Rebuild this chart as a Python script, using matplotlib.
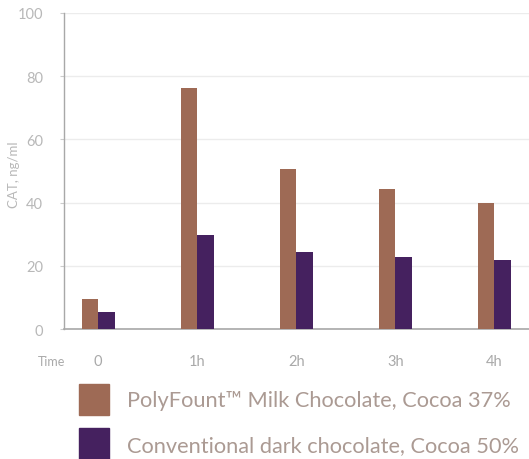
import matplotlib
matplotlib.use("Agg")
import matplotlib.pyplot as plt
from matplotlib.patches import Patch
import numpy as np

categories = ["0", "1h", "2h", "3h", "4h"]
polyfount = [9.5, 76.3, 50.6, 44.3, 39.8]
conventional = [5.5, 29.7, 24.4, 22.8, 21.8]
series_labels = ["PolyFount\u2122 Milk Chocolate, Cocoa 37%",
                 "Conventional dark chocolate, Cocoa 50%"]
yticks = [0, 20, 40, 60, 80, 100]

brown = "#9e6a55"
purple = "#45215f"
tick_color = "#a9a9a9"
legend_text = "#ab9a93"

plt.rcParams['font.family'] = ['Lato', 'DejaVu Sans']

fig = plt.figure(figsize=(5.29, 4.60), dpi=100)
ax = fig.add_axes([64/529, 130/460, 465/529, 316/460])

x = np.arange(len(categories))
w = 0.167
ax.bar(x - w/2, polyfount, width=w, color=brown, zorder=3)
ax.bar(x + w/2, conventional, width=w, color=purple, zorder=3)

ax.set_xlim(-0.345, 4.35)
ax.set_ylim(0, 100)
ax.set_yticks(yticks)
ax.set_xticks(x)
ax.set_xticklabels(categories)
ax.yaxis.grid(True, color="#ececec", linewidth=1.0, zorder=0)
ax.set_axisbelow(True)
for s in ["top", "right"]:
    ax.spines[s].set_visible(False)
ax.spines["left"].set_color("#a8a8a8")
ax.spines["bottom"].set_color("#a8a8a8")
ax.spines["left"].set_linewidth(1.0)
ax.spines["bottom"].set_linewidth(1.2)
ax.tick_params(axis="y", colors="#cccccc", length=3, pad=12, labelsize=10.5, labelcolor="#b8b8b8")
ax.tick_params(axis="x", length=0, pad=18, labelsize=10.5, labelcolor=tick_color)

ax.set_ylabel("CAT, ng/ml", color="#b8b8b8", fontsize=9.5)
ax.yaxis.set_label_coords(-0.095, 0.49)
fig.text(38/529, 1 - 362/460, "Time", color=tick_color, fontsize=9, va="center", ha="left")

handles = [Patch(facecolor=brown, edgecolor=brown), Patch(facecolor=purple, edgecolor=purple)]
leg = fig.legend(handles, series_labels, loc="upper left",
                 bbox_to_anchor=(79/529, 1 - 385/460), frameon=False,
                 fontsize=15.7, handlelength=1.38, handleheight=1.8,
                 handletextpad=0.8, labelspacing=0.62, borderaxespad=0, borderpad=0)
for t in leg.get_texts():
    t.set_color(legend_text)

fig.savefig("out.png", dpi=100)
